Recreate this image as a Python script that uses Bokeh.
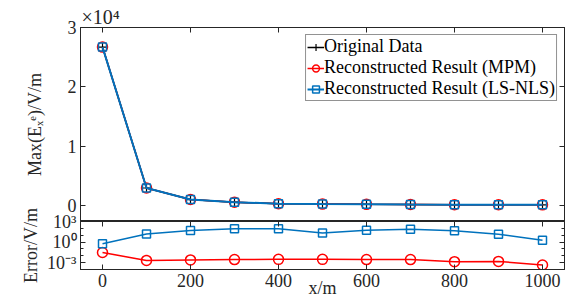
from bokeh.plotting import figure
from bokeh.models import (FixedTicker, LinearAxis, LogAxis, Legend,
                          LegendItem, Range1d)
from bokeh.layouts import column
from bokeh.embed import file_html
from bokeh.resources import INLINE

# ---------------- data ----------------
x_pos = [0, 100, 200, 300, 400, 500, 600, 700, 800, 900, 1000]
orig_data = [26700, 2950, 1000, 560, 300, 230, 190, 160, 140, 120, 110]
mpm_data = [26700, 2950, 1000, 560, 300, 230, 190, 160, 140, 120, 110]
lsnls_data = [26700, 2950, 1000, 560, 300, 230, 190, 160, 140, 120, 110]
err_mpm = [0.03, 0.0021, 0.0025, 0.0028, 0.003, 0.003, 0.0028, 0.0028, 0.0014, 0.0015, 0.00045]
err_lsnls = [0.58, 15.5, 49, 85, 85, 21, 54, 76, 43, 14, 1.8]

x_ticks = [0, 200, 400, 600, 800, 1000]
x_tick_labels = ["0", "200", "400", "600", "800", "1000"]
top_ticks = [0, 10000, 20000, 30000]
top_tick_labels = ["0", "1", "2", "3"]
err_ticks = [0.001, 1, 1000]
err_tick_labels = ["10⁻³", "10⁰", "10³"]
err_minor = [1e-4, 1e-3, 1e-2, 1e-1, 1, 10, 100, 1000]

FONT = "Liberation Serif"
AX = "#262626"
RED = "#FF0000"
BLUE = "#0072BD"


def style_axis(ax, ticks, labels=None):
    ax.major_tick_in = 5
    ax.major_tick_out = 0
    ax.minor_tick_in = 3
    ax.minor_tick_out = 0
    ax.axis_line_color = AX
    ax.major_tick_line_color = AX
    ax.minor_tick_line_color = AX
    ax.major_label_text_font = FONT
    ax.major_label_text_color = AX
    ax.axis_label_text_font = FONT
    ax.axis_label_text_font_style = "normal"
    ax.axis_label_text_font_size = "18px"
    ax.axis_label_text_color = AX
    if labels is not None:
        ax.major_label_overrides = dict(zip(ticks, labels))
        ax.major_label_text_font_size = "18px"
        ax.major_label_standoff = 4
    else:
        ax.major_label_overrides = {t: "" for t in ticks}
        ax.major_label_text_font_size = "1px"
        ax.major_label_standoff = 0


# ---------------- top figure ----------------
xr = Range1d(-50, 1050)
p1 = figure(frame_width=484, frame_height=194, x_range=xr,
            y_range=Range1d(-2700, 30000), output_backend="svg",
            toolbar_location=None, x_axis_location=None, y_axis_location=None,
            min_border_left=80, min_border_right=8, min_border_top=27,
            min_border_bottom=0, title="×10⁴")
p1.title.align = "left"
p1.title.offset = 1
p1.title.standoff = 0
p1.title.text_font = FONT
p1.title.text_font_size = "20px"
p1.title.text_font_style = "normal"
p1.title.text_color = AX
p1.xgrid.visible = False
p1.ygrid.visible = False
p1.outline_line_color = AX

ax_top = LinearAxis(ticker=FixedTicker(ticks=x_ticks))
style_axis(ax_top, x_ticks)
p1.add_layout(ax_top, "above")
ax_left = LinearAxis(ticker=FixedTicker(ticks=top_ticks))
style_axis(ax_left, top_ticks, top_tick_labels)
ax_left.axis_label = "Max(Eₓᵉ)/V/m"
ax_left.axis_label_standoff = 20
p1.add_layout(ax_left, "left")
ax_right = LinearAxis(ticker=FixedTicker(ticks=top_ticks))
style_axis(ax_right, top_ticks)
p1.add_layout(ax_right, "right")

l0 = p1.line(x_pos, orig_data, line_color="black", line_width=1.5)
s0 = p1.scatter(x_pos, orig_data, marker="cross", size=8, line_color="black", line_width=1.2)
l1 = p1.line(x_pos, mpm_data, line_color=RED, line_width=1.5)
s1 = p1.scatter(x_pos, mpm_data, marker="circle", size=10, line_color=RED,
                fill_color=None, line_width=1.5)
l2 = p1.line(x_pos, lsnls_data, line_color=BLUE, line_width=2)
s2 = p1.scatter(x_pos, lsnls_data, marker="square", size=8, line_color=BLUE,
                fill_color=None, line_width=1.5)

legend = Legend(items=[
    LegendItem(label="Original Data", renderers=[l0, s0]),
    LegendItem(label="Reconstructed Result (MPM)", renderers=[l1, s1]),
    LegendItem(label="Reconstructed Result (LS-NLS)", renderers=[l2, s2]),
], location="top_right")
legend.label_text_font = FONT
legend.label_text_font_size = "18px"
legend.label_text_color = "black"
legend.border_line_color = AX
legend.border_line_width = 1
legend.background_fill_alpha = 1
legend.glyph_width = 17
legend.glyph_height = 20
legend.label_height = 20
legend.label_standoff = 0
legend.spacing = 0
legend.padding = 1
legend.margin = 7
p1.add_layout(legend)

# ---------------- bottom figure ----------------
p2 = figure(frame_width=484, frame_height=48, x_range=xr,
            y_axis_type="log", y_range=Range1d(1e-4, 1e3),
            output_backend="svg", toolbar_location=None,
            x_axis_location=None, y_axis_location=None,
            min_border_left=80, min_border_right=8, min_border_top=40,
            min_border_bottom=34)
p2.margin = (-40, 0, 0, 0)
p2.border_fill_color = None
p2.xgrid.visible = False
p2.ygrid.visible = False
p2.outline_line_color = AX

bx = LinearAxis(ticker=FixedTicker(ticks=x_ticks))
style_axis(bx, x_ticks, x_tick_labels)
bx.major_label_standoff = 4
bx.axis_label = "x/m"
bx.axis_label_standoff = -12
p2.add_layout(bx, "below")
bt = LinearAxis(ticker=FixedTicker(ticks=x_ticks))
style_axis(bt, x_ticks)
p2.add_layout(bt, "above")
bl = LogAxis(ticker=FixedTicker(ticks=err_ticks, minor_ticks=err_minor))
style_axis(bl, err_ticks, err_tick_labels)
bl.axis_label = "Error/V/m"
bl.axis_label_standoff = 3
p2.add_layout(bl, "left")
br = LogAxis(ticker=FixedTicker(ticks=err_ticks, minor_ticks=err_minor))
style_axis(br, err_ticks)
p2.add_layout(br, "right")

p2.line(x_pos, err_mpm, line_color=RED, line_width=1.5)
p2.scatter(x_pos, err_mpm, marker="circle", size=10, line_color=RED,
           fill_color=None, line_width=1.5)
p2.line(x_pos, err_lsnls, line_color=BLUE, line_width=1.5)
p2.scatter(x_pos, err_lsnls, marker="square", size=8, line_color=BLUE,
           fill_color=None, line_width=1.5)

layout = column(p1, p2, spacing=0)
open("out.html", "w").write(file_html(layout, INLINE))
